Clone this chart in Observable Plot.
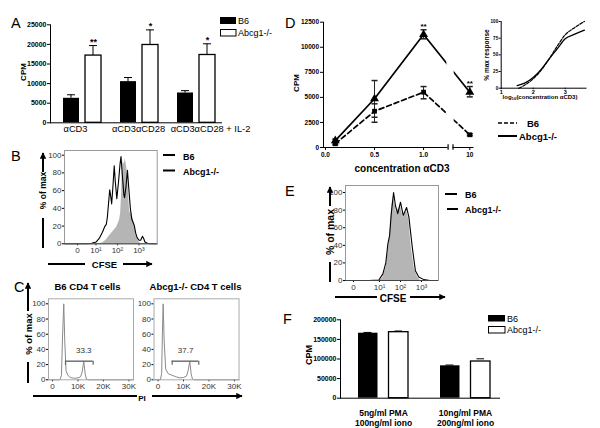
<!DOCTYPE html>
<html><head><meta charset="utf-8">
<script src="https://cdn.jsdelivr.net/npm/d3@7"></script>
<script src="https://cdn.jsdelivr.net/npm/@observablehq/plot@0.6"></script>
<style>
html,body{margin:0;padding:0;background:#fff;}
#fig{position:relative;width:600px;height:428px;overflow:hidden;font-family:"Liberation Sans",Arial,sans-serif;}
#fig svg{position:absolute;left:0;top:0;background:transparent;overflow:visible;max-width:none;}
#fig svg text{font-family:"Liberation Sans",Arial,sans-serif;}
.pA [aria-label^="y-axis"] text,.pF [aria-label^="y-axis"] text{font-size:7px;font-weight:bold;}
.pD [aria-label^="y-axis"] text,.pD [aria-label^="x-axis"] text{font-size:6.5px;font-weight:bold;}
.pDi [aria-label^="y-axis"] text{font-size:4.6px;font-weight:bold;}
.pDi [aria-label^="x-axis"] text{font-size:5.5px;font-weight:bold;}
.flow [aria-label^="y-axis"] text,.flow [aria-label^="x-axis"] text{font-size:8px;fill:#333;}
</style></head><body><div id="fig"></div>
<script>
// ---------- data ----------
const seriesNames = ["B6", "Abcg1-/-"];

// A
const aGroups = ["αCD3", "αCD3αCD28", "αCD3αCD28 + IL-2"];
const aB6 = [6250, 10500, 7600];
const aB6Err = [900, 1050, 600];
const aKO = [17150, 19850, 17300];
const aKOErr = [2550, 3850, 2850];
const aStars = ["**", "*", "*"];
const aYTicks = [0, 5000, 10000, 15000, 20000, 25000];

// D
const dConc = [0.1, 0.5, 1, 10];
const dKO = [680, 4860, 11270, 5520];
const dKOLo = [520, 3020, 10840, 5050];
const dKOHi = [840, 6680, 11740, 6080];
const dB6 = [370, 3620, 5520, 1270];
const dB6Lo = [270, 2520, 4860, 1170];
const dB6Hi = [470, 4360, 6080, 1370];
const dStars = ["", "", "**", "**"];
const dXTicks = [0, 0.5, 1, 10];
const dXLabels = ["0.0", "0.5", "1.0", "10"];
const dYTicks = [0, 2500, 5000, 7500, 10000, 12500];

// D inset
const inB6X = [1.55, 1.75, 2, 2.25, 2.5, 2.75, 3, 3.3, 3.6];
const inB6Y = [0, 5, 14, 27, 44, 63, 80, 91, 100];
const inKOX = [1.5, 1.75, 2, 2.25, 2.5, 2.75, 3, 3.3, 3.6];
const inKOY = [4, 8, 16, 28, 44, 59, 74, 81, 87];

// B, E (CFSE, log-decade display units)
const flowTickLabels = ["0", "10¹", "10²", "10³"];
const pctTicks = [0, 20, 40, 60, 80, 100];
const bTicks = [0.14, 1, 2, 3];
const bKOX = [-0.46,0.5,0.8,1.0,1.15,1.3,1.42,1.48,1.53,1.6,1.64,1.68,1.73,1.79,1.85,1.9,1.97,2.05,2.12,2.165,2.22,2.3,2.33,2.4,2.465,2.52,2.6,2.665,2.78,2.85,2.915,3.0,3.08,3.165,3.22,3.28,3.4,3.6,3.85];
const bKOY = [0,0,0.5,2,6,13,20,22,30,50,61,55,45,65,88,70,51,70,90,98.5,80,55,52,65,83,65,40,28,21,12,7,4,4,8.5,6,2,0.5,0,0];
const bB6X = [1.1,1.3,1.47,1.63,1.8,1.97,2.1,2.15,2.19,2.23,2.265,2.32,2.365,2.42,2.465,2.52,2.56,2.615,2.67,2.715,2.8,2.87,2.915,3.0,3.1];
const bB6Y = [0,1,4,9,14,19,27,35,55,85,93,90,96,88,80,55,38,33,35,30,20,10,6,2,0];
const eTicks = [-0.24, 1, 2, 3];
const eKOX = [-0.62,0.5,0.97,1.16,1.3,1.4,1.48,1.56,1.67,1.76,1.87,2.0,2.13,2.29,2.4,2.56,2.71,2.87,3.11,3.4,3.81];
const eKOY = [0,0,0.5,7.5,20,42,51,76,100,85,76,89,74,83,72,38,11,4,1,0,0];
const eB6X = [1.0,1.15,1.32,1.48,1.6,1.67,1.8,2.0,2.13,2.29,2.4,2.51,2.67,2.82,2.95];
const eB6Y = [0,3,15,49,87,95,78,85,72,80,68,38,12,4,0];

// C (PI)
const cTicks = [0, 10000, 20000, 30000];
const cTickLabels = ["0", "10K", "20K", "30K"];
const cLX = [-1600,2900,3500,3900,4400,4800,5300,6000,7000,8500,10000,11000,11600,12260,12800,13300,14000,31800];
const cLY = [0,0,6,55,100,50,12,6,3,2,2.5,4,10,24.5,8,1,0,0];
const cRX = [-1600,900,1400,1700,2000,2400,3000,4000,5500,7000,8500,10000,11200,11800,12460,13000,13500,14200,31800];
const cRY = [0,0,8,60,100,50,14,8,6,4,2.5,3,5,12,24,8,1,0,0];
const cLGate = [5070, 15950], cRGate = [5540, 16000];
const cGateLevel = 24.5, cGateFoot = 19;
const cLPct = "33.3", cRPct = "37.7";
const cLPctX = 12260, cRPctX = 10800, cPctY = 38;
const cTitles = ["B6 CD4 T cells", "Abcg1-/- CD4 T cells"];

// F
const fGroups = ["5ng/ml PMA\n100ng/ml iono", "10ng/ml PMA\n200ng/ml iono"];
const fB6 = [165800, 82600];
const fB6Err = [2000, 2000];
const fKO = [168400, 93600];
const fKOErr = [3000, 6900];
const fYTicks = [0, 50000, 100000, 150000, 200000];

// ---------- helpers ----------
const fig = document.getElementById("fig");
const W = 600, H = 428;
const box = (x0, x1, y0, y1) => ({width: W, height: H, marginLeft: x0, marginRight: W - x1, marginTop: y0, marginBottom: H - y1});
const put = (svg, cls) => { cls.split(" ").forEach(c => svg.classList.add(c)); fig.appendChild(svg); };
const zip = (xs, ys) => xs.map((x, i) => ({x, y: ys[i]}));
const capSym = {draw(ctx) { ctx.moveTo(-3, 0); ctx.lineTo(3, 0); }};
const labelAt = (ticks, labels) => d => labels[ticks.findIndex(v => Math.abs(v - d) < 1e-9)];

// ---------- A ----------
const aLabelDx = [-7, -1, 14];   // label placement as in the original
const aRows = aGroups.map((g, i) => ({g, b6: aB6[i], b6t: aB6[i] + aB6Err[i], ko: aKO[i], kot: aKO[i] + aKOErr[i], s: aStars[i]}));
put(Plot.plot({
  ...box(50, 222, 24.3, 122.3),
  x: {type: "band", domain: aGroups, range: [53.4, 225.1], paddingInner: 0.336, paddingOuter: 0.168, axis: null},
  y: {domain: [0, 25000], ticks: aYTicks, tickFormat: d3.format("d"), tickSize: 3, tickPadding: 1, line: true, label: null},
  marks: [
    Plot.barY(aRows, {x: "g", y1: "b6", y2: "b6t", fill: "black", insetLeft: 7.5, insetRight: 29.5}),
    Plot.tickY(aRows, {x: "g", y: "b6t", stroke: "black", insetLeft: 4, insetRight: 26}),
    Plot.barY(aRows, {x: "g", y1: "ko", y2: "kot", fill: "black", insetLeft: 29.5, insetRight: 7.5}),
    Plot.tickY(aRows, {x: "g", y: "kot", stroke: "black", insetLeft: 26, insetRight: 4}),
    Plot.barY(aRows, {x: "g", y: "b6", fill: "black", insetRight: 22}),
    Plot.barY(aRows, {x: "g", y: "ko", fill: "white", stroke: "black", strokeWidth: 1.3, insetLeft: 22}),
    Plot.ruleY([0]),
    Plot.text(aRows, {x: "g", y: "kot", text: "s", dx: 11, dy: -1, lineAnchor: "bottom", fontSize: 9, fontWeight: "bold"}),
    ...aGroups.map((g, i) => Plot.text([g], {x: d => d, y: 0, text: d => d, dx: aLabelDx[i], dy: 3, lineAnchor: "top", fontSize: 9.3}))
  ]
}), "pA");

// ---------- D (broken x axis: 0–1.25 | 9.2–10.2) ----------
const dBreakLo = 1.25, dBreakHi = 9.2, dBreakGap = 0.05, dRightScale = 0.214;
const dPos = c => c <= dBreakLo ? c : dBreakLo + dBreakGap + (c - dBreakHi) * dRightScale;
const dRows = dConc.map((c, i) => ({c: dPos(c), ko: dKO[i], koLo: dKOLo[i], koHi: dKOHi[i], b6: dB6[i], b6Lo: dB6Lo[i], b6Hi: dB6Hi[i], s: dStars[i]}));
const dTickPos = dXTicks.map(dPos);
put(Plot.plot({
  ...box(323, 473.5, 21.7, 147),
  x: {domain: [-0.02, dPos(10.2)], ticks: dTickPos, tickFormat: labelAt(dTickPos, dXLabels), tickSize: 3, tickPadding: 2, label: null},
  y: {domain: [0, 12500], ticks: dYTicks, tickFormat: d3.format("d"), tickSize: 3, tickPadding: 1.5, line: true, label: null},
  marks: [
    Plot.ruleX(dRows, {x: "c", y1: "koLo", y2: "koHi", stroke: "#222"}),
    Plot.ruleX(dRows, {x: "c", y1: "b6Lo", y2: "b6Hi", stroke: "#222"}),
    Plot.dot(dRows, {x: "c", y: "koHi", symbol: capSym, stroke: "#222", fill: "none"}),
    Plot.dot(dRows, {x: "c", y: "koLo", symbol: capSym, stroke: "#222", fill: "none"}),
    Plot.dot(dRows, {x: "c", y: "b6Hi", symbol: capSym, stroke: "#222", fill: "none"}),
    Plot.dot(dRows, {x: "c", y: "b6Lo", symbol: capSym, stroke: "#222", fill: "none"}),
    Plot.line(dRows, {x: "c", y: "ko", stroke: "black", strokeWidth: 1.7}),
    Plot.line(dRows, {x: "c", y: "b6", stroke: "black", strokeWidth: 1.7, strokeDasharray: "5,3"}),
    Plot.rect([0], {x1: dPos(dBreakLo) - 0.012, x2: dPos(dBreakHi) + 0.012, y1: 150, y2: 12500, fill: "white"}),
    Plot.ruleY([[-0.02, dPos(dBreakLo)], [dPos(dBreakHi), dPos(10.2)]], {y: 0, x1: d => d[0], x2: d => d[1], stroke: "black"}),
    Plot.ruleX([dPos(dBreakLo), dPos(dBreakHi)], {y1: -280, y2: 280, stroke: "black", strokeWidth: 1.2}),
    Plot.dot(dRows, {x: "c", y: "ko", symbol: "triangle", fill: "black", r: 3.3}),
    Plot.dot(dRows, {x: "c", y: "b6", symbol: "square", fill: "black", r: 2.7}),
    Plot.text(dRows, {x: "c", y: "koHi", text: "s", dy: -1, lineAnchor: "bottom", fontSize: 8, fontWeight: "bold"})
  ]
}), "pD");

// ---------- D inset ----------
put(Plot.plot({
  ...box(500.7, 585.5, 21, 87.7),
  x: {domain: [1, 3.65], ticks: [1, 2, 3], tickFormat: d3.format("d"), tickSize: 1.5, tickPadding: 0, line: true, label: null},
  y: {domain: [0, 100], ticks: [0, 25, 50, 75, 100], tickFormat: d3.format("d"), tickSize: 2, tickPadding: 1, line: true, label: null},
  marks: [
    Plot.line(zip(inB6X, inB6Y), {x: "x", y: "y", curve: "monotone-x", stroke: "black", strokeWidth: 1.2, strokeDasharray: "3,1.5"}),
    Plot.line(zip(inKOX, inKOY), {x: "x", y: "y", curve: "monotone-x", stroke: "black", strokeWidth: 1.3})
  ]
}), "pDi");

// ---------- B ----------
put(Plot.plot({
  ...box(64, 156.7, 150, 243.3),
  x: {domain: [-0.465, 3.85], ticks: bTicks, tickFormat: labelAt(bTicks, flowTickLabels), tickSize: 2, tickPadding: 2, label: null},
  y: {domain: [0, 105.3], ticks: pctTicks, tickSize: 2, tickPadding: 1, label: null},
  marks: [
    Plot.areaY(zip(bB6X, bB6Y), {x: "x", y: "y", fill: "#b5b5b5"}),
    Plot.line(zip(bKOX, bKOY), {x: "x", y: "y", stroke: "black", strokeWidth: 1.1}),
    Plot.frame({stroke: "#999"}),
    Plot.ruleY([0], {stroke: "#444"})
  ]
}), "pB flow");

// ---------- E ----------
put(Plot.plot({
  ...box(345, 438, 185, 280),
  x: {domain: [-0.62, 3.81], ticks: eTicks, tickFormat: labelAt(eTicks, flowTickLabels), tickSize: 2, tickPadding: 1.5, label: null},
  y: {domain: [0, 108], ticks: pctTicks, tickSize: 2, tickPadding: 1, label: null},
  marks: [
    Plot.areaY(zip(eB6X, eB6Y), {x: "x", y: "y", fill: "#b5b5b5"}),
    Plot.line(zip(eKOX, eKOY), {x: "x", y: "y", stroke: "black", strokeWidth: 1.1}),
    Plot.frame({stroke: "#999"}),
    Plot.ruleY([0], {stroke: "#444"})
  ]
}), "pE flow");

// ---------- C ----------
function cPanel(x0, x1, xs, ys, gate, pct, pctX, cls) {
  put(Plot.plot({
    ...box(x0, x1, 298.3, 379.3),
    x: {domain: [-1600, 31800], ticks: cTicks, tickFormat: labelAt(cTicks, cTickLabels), tickSize: 2, tickPadding: 2, label: null},
    y: {domain: [0, 106.6], ticks: pctTicks, tickSize: 2, tickPadding: 1, label: null},
    marks: [
      Plot.line(zip(xs, ys), {x: "x", y: "y", stroke: "#8a8a8a", strokeWidth: 1}),
      Plot.ruleY([cGateLevel], {x1: gate[0], x2: gate[1], stroke: "#666", strokeWidth: 1.4}),
      Plot.ruleX(gate, {y1: cGateFoot, y2: cGateLevel, stroke: "#666", strokeWidth: 1.2}),
      Plot.text([pct], {x: pctX, y: cPctY, text: d => d, fontSize: 8, fill: "#333"}),
      Plot.frame({stroke: "#aaa"})
    ]
  }), cls);
}
cPanel(48, 133, cLX, cLY, cLGate, cLPct, cLPctX, "pC1 flow");
cPanel(153.5, 238.5, cRX, cRY, cRGate, cRPct, cRPctX, "pC2 flow");

// ---------- F ----------
const fRows = fGroups.map((g, i) => ({g, b6: fB6[i], b6t: fB6[i] + fB6Err[i], ko: fKO[i], kot: fKO[i] + fKOErr[i]}));
put(Plot.plot({
  ...box(340, 500, 319.3, 397.7),
  x: {type: "band", domain: fGroups, range: [341.8, 506.4], paddingInner: 0.386, paddingOuter: 0.193, axis: null},
  y: {domain: [0, 200000], ticks: fYTicks, tickFormat: d3.format("d"), tickSize: 3, tickPadding: 1, line: true, label: null},
  marks: [
    Plot.barY(fRows, {x: "g", y1: "b6", y2: "b6t", fill: "black", insetLeft: 9.5, insetRight: 40.5}),
    Plot.tickY(fRows, {x: "g", y: "b6t", stroke: "black", insetLeft: 5.5, insetRight: 36.5}),
    Plot.barY(fRows, {x: "g", y1: "ko", y2: "kot", fill: "black", insetLeft: 40, insetRight: 10}),
    Plot.tickY(fRows, {x: "g", y: "kot", stroke: "black", insetLeft: 36.5, insetRight: 6}),
    Plot.barY(fRows, {x: "g", y: "b6", fill: "black", insetRight: 30.5}),
    Plot.barY(fRows, {x: "g", y: "ko", fill: "white", stroke: "black", strokeWidth: 1.3, insetLeft: 30.5}),
    Plot.ruleY([0]),
    Plot.text(fRows, {x: "g", y: 0, text: "g", lineAnchor: "top", dy: 10, fontSize: 8.5, fontWeight: "bold", lineHeight: 1.25})
  ]
}), "pF");

// ---------- decorations: panel letters, axis titles, legends ----------
const t = (x, y, s, o = "") => `<text x="${x}" y="${y}" ${o}>${s}</text>`;
const vt = (x, y, s, size, o = "") => `<text transform="translate(${x},${y}) rotate(-90)" text-anchor="middle" dominant-baseline="central" font-size="${size}" font-weight="bold" ${o}>${s}</text>`;
const ln = (x1, y1, x2, y2, o = "") => `<line x1="${x1}" y1="${y1}" x2="${x2}" y2="${y2}" stroke="black" ${o}/>`;
const deco = `<svg xmlns="http://www.w3.org/2000/svg" width="600" height="428" font-family="Liberation Sans, Arial, sans-serif">
<defs><marker id="ah" viewBox="0 0 10 10" refX="9" refY="5" markerWidth="3.2" markerHeight="3.2" orient="auto"><path d="M0,0L10,5L0,10z" fill="black"/></marker></defs>
<g font-size="14.5">${t(11,28,"A")}${t(285,28,"D")}${t(11,161,"B")}${t(285,196,"E")}${t(14,292,"C")}${t(283,324,"F")}</g>
${vt(23.5,72,"CPM",8)}${vt(296.5,83,"CPM",8)}${vt(308.5,355,"CPM",9)}
${t(402,172,"concentration αCD3",'font-size="10" font-weight="bold" text-anchor="middle"')}
${vt(486,55,"% max response",6.5,'font-weight="normal"')}
${t(540,98.5,"log<tspan font-size=\"4.3\" dy=\"1.3\">10</tspan><tspan dy=\"-1.3\">(concentration  αCD3)</tspan>",'font-size="6" font-weight="bold" text-anchor="middle"')}
<rect x="220" y="17" width="16" height="7" fill="black"/>${t(238,24,seriesNames[0],'font-size="9"')}
<rect x="220.5" y="29.5" width="15.5" height="6.5" fill="white" stroke="black"/>${t(238,36,seriesNames[1],'font-size="9"')}
<rect x="488" y="315" width="17" height="6.5" fill="black"/>${t(507,321.5,seriesNames[0],'font-size="9"')}
<rect x="488.5" y="326.5" width="16.5" height="6.5" fill="white" stroke="black"/>${t(507,333,seriesNames[1],'font-size="9"')}
${ln(498,123,517,123,'stroke-width="1.6" stroke-dasharray="4,2"')}${t(527,127,seriesNames[0],'font-size="9.5" font-weight="bold"')}
${ln(498,136,517,136,'stroke-width="2"')}${t(519,140,seriesNames[1],'font-size="9.5" font-weight="bold"')}
${ln(163,155,175,155,'stroke="#aaa" stroke-width="2"')}${t(183,159.5,seriesNames[0],'font-size="9" font-weight="bold"')}
${ln(163,170.5,175,170.5,'stroke-width="2"')}${t(183,174.5,seriesNames[1],'font-size="9" font-weight="bold"')}
${ln(445,194,457,194,'stroke="#aaa" stroke-width="2"')}${t(465,198,seriesNames[0],'font-size="9" font-weight="bold"')}
${ln(447,209,458,209,'stroke-width="2"')}${t(465,213,seriesNames[1],'font-size="9" font-weight="bold"')}
${ln(43,172,43,153,'stroke-width="2" marker-end="url(#ah)"')}${vt(43,190.5,"% of max",8.5)}${ln(43,218,43,248,'stroke-width="2"')}
${ln(48,264,85,264,'stroke-width="2"')}${t(104.5,268,"CFSE",'font-size="9.5" font-weight="bold" text-anchor="middle"')}${ln(123,264,152,264,'stroke-width="2" marker-end="url(#ah)"')}
${ln(330,206,330,187,'stroke-width="2" marker-end="url(#ah)"')}${vt(330,232,"% of max",10.5)}${ln(330,262,330,282,'stroke-width="2"')}
${ln(335,297,377,297,'stroke-width="2"')}${t(393,301.5,"CFSE",'font-size="10" font-weight="bold" text-anchor="middle"')}${ln(410,297,445,297,'stroke-width="2" marker-end="url(#ah)"')}
${ln(28,311,28,283,'stroke-width="2" marker-end="url(#ah)"')}${vt(28,334,"% of max",9.5)}${ln(28,362,28,383,'stroke-width="2"')}
${ln(33,396,137,396,'stroke-width="2"')}${t(142,401,"PI",'font-size="8" font-weight="bold" text-anchor="middle"')}${ln(152,396,242,396,'stroke-width="2" marker-end="url(#ah)"')}
${t(87.5,290,cTitles[0],'font-size="9.5" font-weight="bold" text-anchor="middle"')}${t(195.5,290,cTitles[1],'font-size="9.5" font-weight="bold" text-anchor="middle"')}
</svg>`;
fig.insertAdjacentHTML("beforeend", deco);
</script></body></html>
